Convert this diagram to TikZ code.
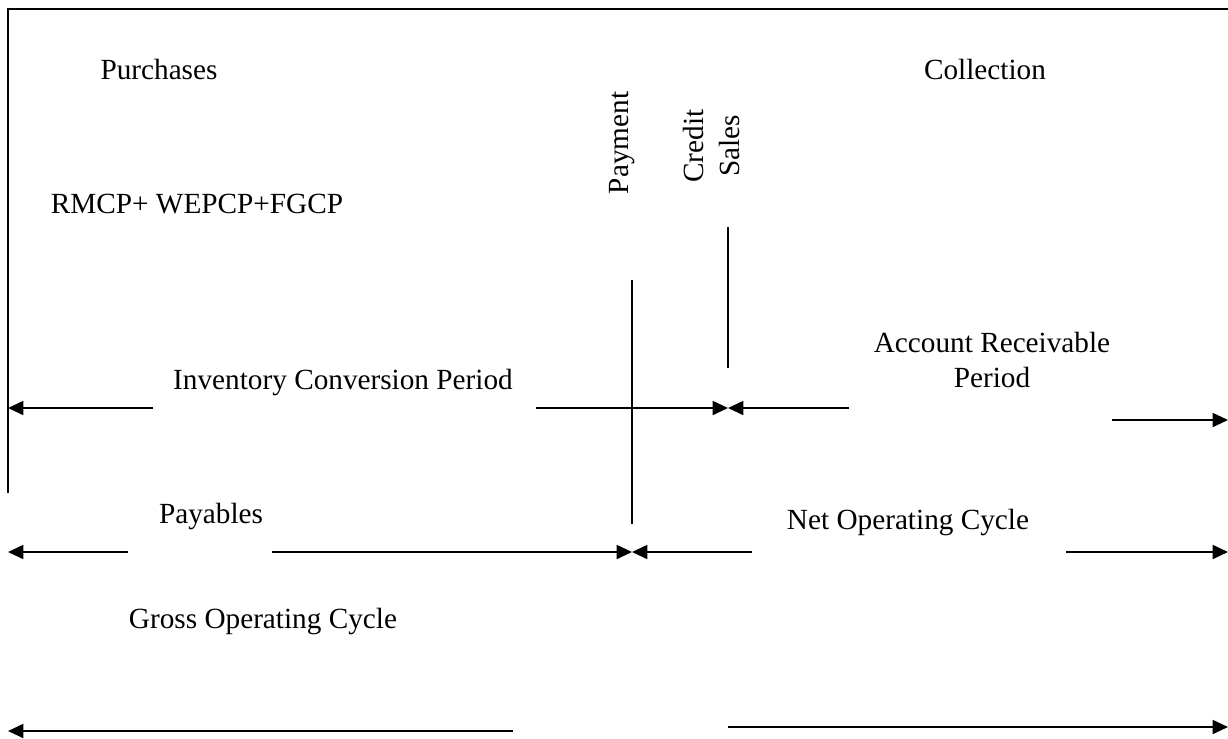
\documentclass[tikz,border=0pt]{standalone}
\usepackage{fontspec}
\setmainfont{Liberation Serif}
\usetikzlibrary{arrows.meta}

\begin{document}
\begin{tikzpicture}[
  x=0.025cm, y=-0.025cm,
  >={Triangle[length=11pt,width=10pt]},
  every node/.style={font=\fontsize{20.8}{24.2}\selectfont, inner sep=0pt},
  lbl/.style={anchor=base, align=center},
  rot/.style={rotate=90, align=center},
  ln/.style={line width=1.4pt}
]
\useasboundingbox (0,0) rectangle (1228,738);

% frame
\coordinate (fbl) at (8,493);
\coordinate (ftl) at (8,9);
\coordinate (ftr) at (1228,9);
\draw[ln] (fbl) -- (ftl) -- (ftr);

% labels
\node[lbl] (purch) at (159,79) {Purchases};
\node[lbl] (coll) at (985,79) {Collection};
\node[lbl] (rmcp) at (197,213) {RMCP+ WEPCP+FGCP};
\node[rot] (pay) at (622,143) {Payment};
\node[rot, font=\fontsize{20.8}{25.6}\selectfont] (csales) at (711,146) {Credit\\Sales};
\node[lbl] (icp) at (343,389) {Inventory Conversion Period};
\node[lbl] (arp) at (992,387) {Account Receivable\\Period};
\node[lbl] (payb) at (211,523) {Payables};
\node[lbl] (noc) at (908,529) {Net Operating Cycle};
\node[lbl] (goc) at (263,628) {Gross Operating Cycle};

% end points
\coordinate (payT) at (632,280);
\coordinate (payB) at (632,524);
\coordinate (csT) at (728,227);
\coordinate (csB) at (728,368);

\coordinate (i0) at (8,408);
\coordinate (i1) at (153,408);
\coordinate (i2) at (536,408);
\coordinate (i3) at (728,408);
\coordinate (a1) at (849,408);
\coordinate (a2) at (1112,420);
\coordinate (a3) at (1228,420);

\coordinate (p0) at (8,552);
\coordinate (p1) at (128,552);
\coordinate (p2) at (272,552);
\coordinate (p3) at (632,552);
\coordinate (n1) at (752,552);
\coordinate (n2) at (1066,552);
\coordinate (n3) at (1228,552);

\coordinate (g0) at (8,731);
\coordinate (g1) at (513,731);
\coordinate (g2) at (728,727);
\coordinate (g3) at (1228,727);

% markers
\draw[ln] (payT) -- (payB);
\draw[ln] (csT) -- (csB);

% arrows
\draw[ln,->] (i1) -- (i0);
\draw[ln,->] (i2) -- (i3);
\draw[ln,->] (a1) -- (i3);
\draw[ln,->] (a2) -- (a3);

\draw[ln,->] (p1) -- (p0);
\draw[ln,->] (p2) -- (p3);
\draw[ln,->] (n1) -- (p3);
\draw[ln,->] (n2) -- (n3);

\draw[ln,->] (g1) -- (g0);
\draw[ln,->] (g2) -- (g3);
\end{tikzpicture}
\end{document}
